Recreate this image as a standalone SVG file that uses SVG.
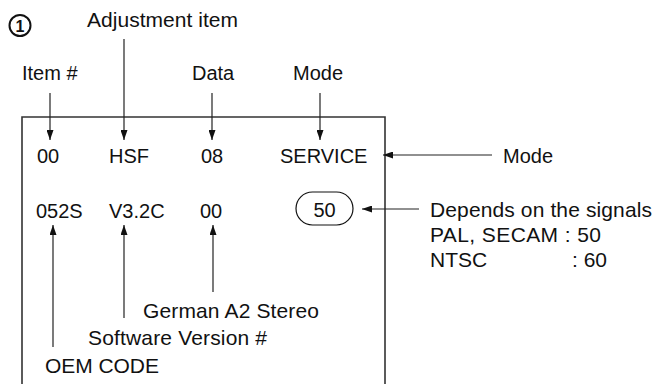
<svg xmlns="http://www.w3.org/2000/svg" width="656" height="384" viewBox="0 0 656 384">
<style>
text{font-family:"Liberation Sans",Arial,sans-serif;font-size:20px;fill:#111}
.lg{font-size:21px}
.ln{stroke:#222;stroke-width:1.2;fill:none}
.box{stroke:#333;stroke-width:1.6;fill:none}
</style>
<defs>
<marker id="ah" markerUnits="userSpaceOnUse" markerWidth="11" markerHeight="7" refX="10" refY="3.5" orient="auto">
<path d="M0,0 L10,3.5 L0,7 z" fill="#111"/>
</marker>
</defs>
<rect width="656" height="384" fill="#fff"/>
<g id="number">
<circle cx="20" cy="25.5" r="10.5" fill="none" stroke="#111" stroke-width="2"/>
<text x="20" y="31.5" text-anchor="middle" style="font-size:16px;font-weight:bold">1</text>
</g>
<g id="screen">
<path class="box" d="M22,390 V117 H385 V390"/>
</g>
<g id="labels-top">
<text id="adj" class="lg" x="87" y="27" textLength="151">Adjustment item</text>
<text id="itemno" x="22" y="80">Item #</text>
<text id="data" x="192" y="80">Data</text>
<text id="mode-top" x="293" y="80">Mode</text>
</g>
<g id="row1">
<text x="37" y="163">00</text>
<text x="109" y="163">HSF</text>
<text x="201" y="163">08</text>
<text x="280" y="163">SERVICE</text>
</g>
<g id="row2">
<text x="36" y="218">052S</text>
<text x="109" y="218">V3.2C</text>
<text x="200" y="218">00</text>
</g>
<g id="freq">
<rect x="296" y="192" width="57" height="33" rx="16.5" fill="none" stroke="#111" stroke-width="1.2"/>
<text x="324.5" y="217" text-anchor="middle">50</text>
</g>
<g id="mode-right">
<text x="503" y="163">Mode</text>
</g>
<g id="signals">
<text class="lg" x="430" y="217" textLength="222">Depends on the signals</text>
<text class="lg" x="430" y="242" textLength="171">PAL, SECAM : 50</text>
<text class="lg" y="267"><tspan x="430">NTSC</tspan><tspan x="572">: 60</tspan></text>
</g>
<g id="labels-bottom">
<text id="german" class="lg" x="143" y="318" textLength="176">German A2 Stereo</text>
<text id="software" class="lg" x="88" y="345" textLength="179">Software Version #</text>
<text id="oem" class="lg" x="45" y="373" textLength="114">OEM CODE</text>
</g>
<g id="connectors">
<line class="ln" x1="50" y1="93" x2="50" y2="140" marker-end="url(#ah)"/>
<line class="ln" x1="124" y1="39" x2="124" y2="140" marker-end="url(#ah)"/>
<line class="ln" x1="212" y1="93" x2="212" y2="140" marker-end="url(#ah)"/>
<line class="ln" x1="320" y1="93" x2="320" y2="140" marker-end="url(#ah)"/>
<line class="ln" x1="492" y1="155" x2="383" y2="155" marker-end="url(#ah)"/>
<line class="ln" x1="419" y1="209" x2="362" y2="209" marker-end="url(#ah)"/>
<line class="ln" x1="53" y1="347" x2="53" y2="225" marker-end="url(#ah)"/>
<line class="ln" x1="124" y1="318" x2="124" y2="225" marker-end="url(#ah)"/>
<line class="ln" x1="213" y1="292" x2="213" y2="225" marker-end="url(#ah)"/>
</g>
</svg>
